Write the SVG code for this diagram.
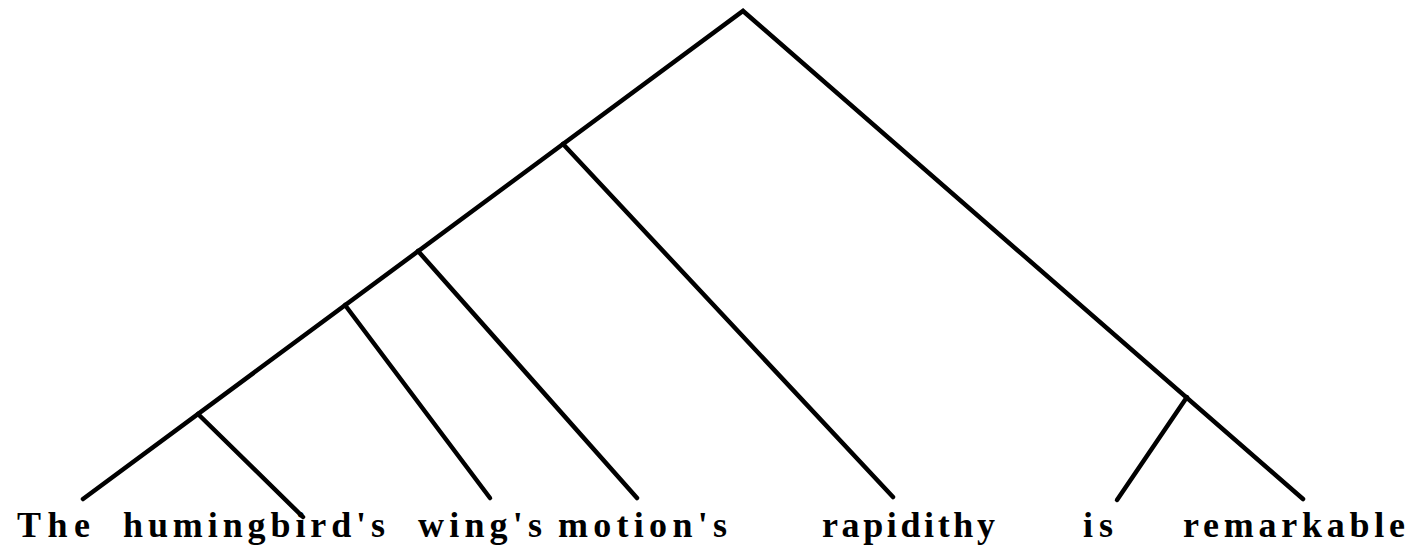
<svg xmlns="http://www.w3.org/2000/svg" width="1418" height="550" viewBox="0 0 1418 550">
<style>
.e{stroke:#000;stroke-width:4.5;stroke-linecap:round;fill:none}
.w{font-family:"Liberation Serif","Times New Roman",serif;font-weight:bold;font-size:36px;fill:#000}
</style>
<rect width="1418" height="550" fill="#fff"/>
<g id="connectors">
<path class="e" d="M83,499 L743,11 L1303,499"/>
<path class="e" d="M198,414 L303,517"/>
<path class="e" d="M345,305 L490,498"/>
<path class="e" d="M418,251 L637,498"/>
<path class="e" d="M563,144 L893,497"/>
<path class="e" d="M1187,397 L1117,500"/>
</g>
<g id="w-the"><text class="w" x="17" y="537" textLength="73" lengthAdjust="spacing">The</text></g>
<g id="w-humingbirds"><text class="w" x="123" y="537" textLength="262" lengthAdjust="spacing">humingbird's</text></g>
<g id="w-wings"><text class="w" x="418" y="537" textLength="124" lengthAdjust="spacing">wing's</text></g>
<g id="w-motions"><text class="w" x="558" y="537" textLength="169" lengthAdjust="spacing">motion's</text></g>
<g id="w-rapidithy"><text class="w" x="822" y="537" textLength="173" lengthAdjust="spacing">rapidithy</text></g>
<g id="w-is"><text class="w" x="1083" y="537" textLength="30" lengthAdjust="spacing">is</text></g>
<g id="w-remarkable"><text class="w" x="1183" y="537" textLength="222" lengthAdjust="spacing">remarkable</text></g>
</svg>
